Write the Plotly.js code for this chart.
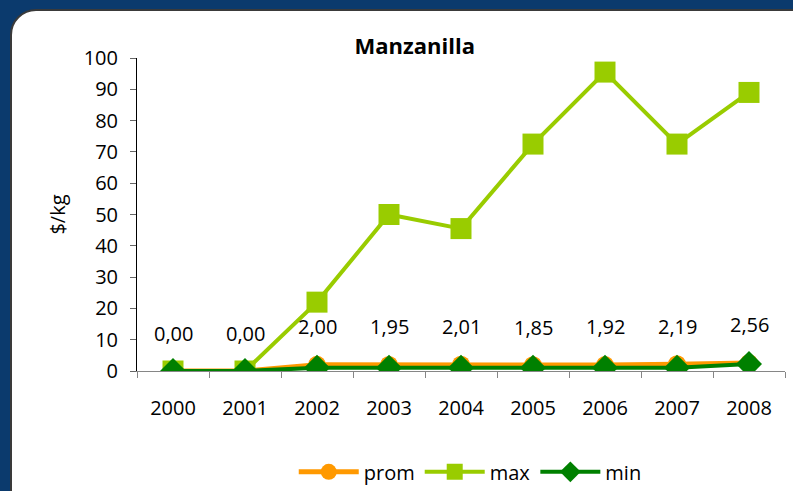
<!DOCTYPE html>
<html>
<head>
<meta charset="utf-8">
<script src="https://cdn.plot.ly/plotly-3.0.1.min.js"></script>
<style>
  html, body { margin:0; padding:0; width:793px; height:491px; overflow:hidden; background:#0B3A6D; }
  #panel { position:absolute; left:10px; top:9px; width:820px; height:520px; background:#fff;
           border:2px solid #3a3a3a; border-radius:26px 0 0 26px; box-sizing:border-box; }
  #chart { position:absolute; left:0; top:0; width:793px; height:491px; }
</style>
</head>
<body>
<div id="panel"></div>
<div id="chart"></div>
<script>
const years = ["2000","2001","2002","2003","2004","2005","2006","2007","2008"];
const prom = [0.00, 0.00, 2.00, 1.95, 2.01, 1.85, 1.92, 2.19, 2.56];
const maxv = [0, 0, 22, 50, 45.5, 72.5, 95.5, 72.5, 89];
const minv = [0, 0, 1, 1, 1, 1, 1, 1, 2.2];
const promLabels = ["0,00","0,00","2,00","1,95","2,01","1,85","1,92","2,19","2,56"];

const font = "'Open Sans', sans-serif";

const traces = [
  {x: years, y: prom, name: "prom", type: "scatter", mode: "lines+markers",
   line: {color: "#FF9900", width: 5}, marker: {symbol: "circle", size: 18, color: "#FF9900"}},
  {x: years, y: maxv, name: "max", type: "scatter", mode: "lines+markers",
   line: {color: "#99CC00", width: 4}, marker: {symbol: "square", size: 21, color: "#99CC00"}},
  {x: years, y: minv, name: "min", type: "scatter", mode: "lines+markers",
   line: {color: "#008000", width: 4}, marker: {symbol: "diamond", size: 20, color: "#008000"}}
];

// category serial numbers for annotation positions
const annotations = years.map((yr, i) => ({
  x: i, y: prom[i], xref: "x", yref: "y", text: promLabels[i], showarrow: false,
  yshift: 38, font: {family: font, size: 20, color: "#000"}
}));

const layout = {
  width: 793, height: 491,
  margin: {l: 137, r: 8, t: 58, b: 120, autoexpand: false},
  paper_bgcolor: "rgba(0,0,0,0)", plot_bgcolor: "rgba(0,0,0,0)",
  font: {family: font, size: 20, color: "#000"},
  title: {text: "<b>Manzanilla</b>", x: 0.523, xanchor: "center", y: 0.905, yanchor: "middle",
          font: {family: font, size: 22, color: "#000"}},
  xaxis: {type: "category", range: [-0.5, 8.5], showline: true, linecolor: "#868686", linewidth: 1,
          ticks: "outside", tickson: "boundaries", ticklen: 6, tickcolor: "#868686",
          showgrid: false, zeroline: false, ticklabelstandoff: 19, fixedrange: true, automargin: false},
  yaxis: {range: [0, 100], dtick: 10, showline: true, linecolor: "#000", linewidth: 1,
          ticks: "outside", ticklen: 6, tickcolor: "#666", showgrid: false, zeroline: false,
          ticklabelstandoff: 8, automargin: false,
          title: {text: "$/kg", standoff: 12, font: {family: font, size: 20}}},
  showlegend: true,
  legend: {orientation: "h", xref: "container", yref: "container", x: 0.593, xanchor: "center",
           y: 0.039, yanchor: "middle",
           itemwidth: 60, font: {family: font, size: 20}, bgcolor: "rgba(0,0,0,0)",
           tracegroupgap: 0, itemsizing: "trace"},
  annotations: annotations
};

Plotly.newPlot("chart", traces, layout, {displayModeBar: false, staticPlot: true});
</script>
</body>
</html>
